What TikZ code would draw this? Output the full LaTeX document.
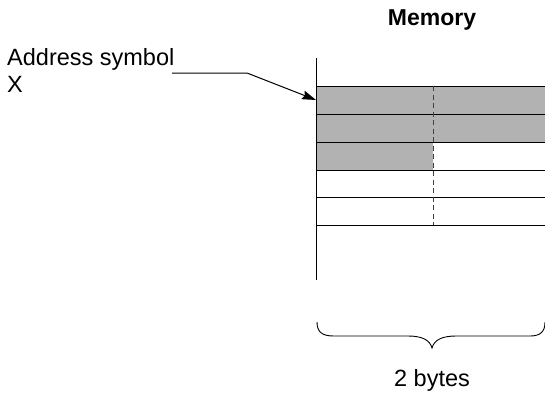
\documentclass[tikz,border=0pt]{standalone}
\usepackage{fontspec}
\setmainfont{Liberation Sans}
\usetikzlibrary{arrows.meta,calc,positioning}

\tikzset{
  rowline/.style={line width=1pt},
  halfline/.style={line width=0.9pt,dash pattern=on 5pt off 3.5pt,black!75},
  used/.style={fill=black!30},
  lbl/.style={font=\fontsize{23.5}{27}\selectfont,inner sep=0pt},
}

\begin{document}
\begin{tikzpicture}[x=1pt,y=-1pt,>={Stealth[length=14pt,width=9pt,inset=2pt]}]
\useasboundingbox (0,0) rectangle (545,394);
% shaded cells
\fill[used] (316,86) rectangle (545,142);
\fill[used] (316,142) rectangle (433,170);
% rows
\foreach \y in {86,114,142,170,197.5,225}
  \draw[rowline] (316,\y) -- (545,\y);
\draw[halfline] (433,86) -- (433,225);
\draw[rowline] (316,58) -- (316,280);
% labels
\node[lbl,font=\fontsize{23}{27}\selectfont\bfseries] (mem) at (432,20) {Memory};
\node[lbl,anchor=north west,align=left] (addr) at (7,48) {Address symbol\\X};
\coordinate (lead) at (172,73);
\coordinate (bend) at (247,73);
\coordinate (cellx) at (316,100);
\draw[rowline,->] (lead) -- (bend) -- (cellx);
% brace under the two bytes
\coordinate (bl) at (317,322);
\coordinate (br) at (545,322);
\coordinate (tip) at (432,348);
\draw[line width=0.9pt] (bl) .. controls (317,332) and (322,336) .. (334,336)
  -- (408,336) .. controls (422,336) and (430,340) .. (tip)
  .. controls (434,340) and (442,336) .. (456,336)
  -- (530,336) .. controls (540,336) and (545,332) .. (br);
\node[lbl,anchor=base] (bytes) at (432,386) {2 bytes};
\end{tikzpicture}
\end{document}
